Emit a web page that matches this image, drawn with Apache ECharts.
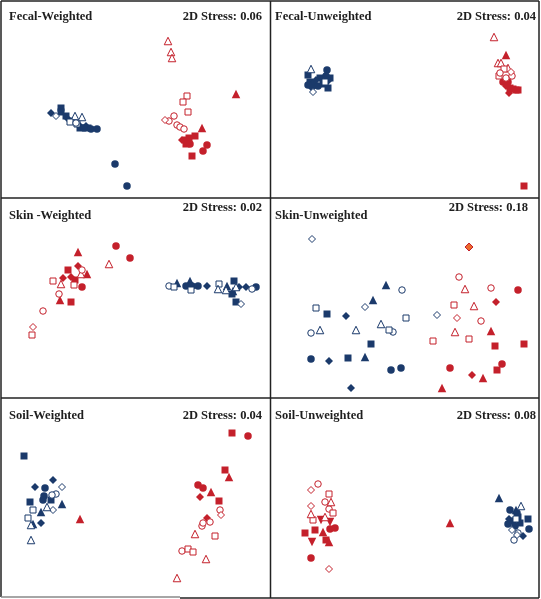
<!DOCTYPE html>
<html><head><meta charset="utf-8">
<script src="https://cdn.jsdelivr.net/npm/echarts@6/dist/echarts.min.js"></script>
<style>html,body{margin:0;padding:0;background:#fff}#c{width:541px;height:599px}</style>
</head><body><div id="c"></div>
<script>
// Panel titles and stress labels
var panelTitles = ['Fecal-Weighted','Fecal-Unweighted','Skin -Weighted','Skin-Unweighted','Soil-Weighted','Soil-Unweighted'];
var stressLabels = ['2D Stress: 0.06','2D Stress: 0.04','2D Stress: 0.02','2D Stress: 0.18','2D Stress: 0.04','2D Stress: 0.08'];

// Ordination coordinates [symbolCode, x, y]; codes: c=circle s=square t=triangle d=diamond v=inverted triangle; f=filled o=open; dx=orange diamond
var fecalWBlue = [['df',51,113],['sf',61,108],['sf',61,112],['do',56,116],['sf',66,116],['df',68,119],['to',75,116],['to',82,117],['so',70,122],['sf',73,121],['co',76,123],['df',79,125],['sf',80,128],['cf',84,128],['sf',88,128],['df',86,126],['cf',91,129],['cf',97,129],['so',77,124],['cf',115,164],['cf',127,186]];
var fecalWRed = [['to',168,41],['to',171,52],['to',172,58],['tf',236,94],['so',187,96],['so',183,102],['so',188,112],['co',174,116],['co',169,121],['co',177,125],['co',180,127],['co',184,129],['do',165,120],['tf',202,128],['sf',195,136],['sf',189,138],['df',182,140],['df',188,142],['cf',190,144],['sf',186,140],['cf',207,145],['cf',203,151],['sf',192,156],['sf',186,144]];
var fecalUBlue = [['to',41,69],['sf',38,75],['cf',57,70],['cf',56,76],['sf',50,78],['df',46,80],['sf',40,82],['cf',44,84],['df',58,81],['sf',53,84],['cf',48,86],['df',42,88],['do',43,92],['sf',58,88],['so',55,82],['cf',38,85],['sf',60,78]];
var fecalURed = [['to',224,37],['tf',236,55],['to',228,63],['to',231,63],['so',234,69],['co',230,73],['do',241,72],['co',236,78],['so',229,76],['cf',238,82],['sf',240,88],['df',236,86],['sf',246,90],['df',239,93],['cf',233,82],['co',242,76],['to',238,68],['sf',243,89],['sf',248,90],['sf',254,186]];
var skinWRed = [['cf',116,51],['cf',130,63],['to',109,69],['tf',78,57],['df',78,71],['co',82,75],['to',81,79],['tf',87,79],['sf',68,75],['df',63,83],['df',71,82],['sf',75,85],['so',74,90],['so',53,86],['to',61,89],['cf',82,92],['co',59,99],['tf',60,105],['sf',71,107],['co',43,116],['do',33,132],['so',32,140]];
var skinWBlue = [['co',169,91],['so',174,92],['tf',177,88],['cf',186,91],['tf',190,86],['so',191,95],['cf',192,91],['cf',198,91],['df',207,91],['so',219,89],['to',218,94],['tf',227,91],['to',226,95],['sf',234,86],['to',236,92],['df',239,92],['df',246,92],['co',252,94],['cf',256,92],['sf',232,99],['sf',236,107],['do',241,109],['tf',233,96]];
var skinUBlue = [['do',42,44],['tf',116,90],['co',132,95],['tf',103,105],['do',95,112],['so',46,113],['sf',57,119],['df',76,121],['so',136,123],['to',111,129],['co',41,138],['to',50,135],['to',86,135],['so',119,135],['co',123,137],['sf',101,149],['cf',41,164],['df',59,166],['sf',78,163],['tf',95,162],['cf',121,175],['cf',131,173],['df',81,193],['do',167,120]];
var skinURed = [['dx',199,52],['co',189,82],['to',195,94],['co',221,93],['cf',248,95],['so',184,110],['to',204,111],['df',226,107],['do',187,123],['co',211,126],['tf',221,136],['to',185,137],['so',163,146],['so',199,144],['sf',225,151],['sf',254,149],['cf',180,173],['cf',232,169],['sf',227,175],['df',202,180],['tf',213,183],['tf',172,193]];
var soilWBlue = [['sf',24,63],['df',35,94],['df',53,87],['cf',45,95],['do',62,94],['co',56,101],['co',52,102],['cf',44,103],['sf',30,109],['cf',43,107],['sf',51,107],['tf',62,111],['to',47,114],['do',53,117],['so',33,117],['tf',41,119],['so',28,125],['tf',33,131],['to',31,132],['df',41,130],['to',31,147]];
var soilWRed = [['tf',80,126],['sf',232,40],['cf',248,43],['sf',225,77],['tf',229,84],['cf',198,92],['cf',203,95],['tf',211,99],['df',200,104],['sf',219,108],['co',220,117],['do',221,122],['df',207,125],['co',210,129],['co',202,133],['co',203,130],['to',195,141],['so',215,143],['co',182,158],['so',188,156],['so',193,159],['to',206,166],['to',177,185]];
var soilURed = [['do',41,97],['co',48,91],['so',59,101],['co',55,109],['to',61,109],['do',41,113],['co',59,116],['so',63,120],['to',41,121],['so',43,127],['vf',51,127],['to',55,124],['vf',60,129],['cf',60,136],['cf',65,135],['sf',35,140],['sf',45,137],['tf',53,139],['vf',42,149],['sf',56,147],['tf',59,149],['cf',41,165],['do',59,176],['tf',180,130]];
var soilUBlue = [['tf',229,105],['cf',240,117],['to',251,113],['cf',247,120],['tf',246,117],['sf',258,126],['sf',248,124],['so',246,126],['cf',243,128],['df',239,126],['cf',259,136],['df',253,143],['co',244,147],['do',242,137],['do',247,142],['cf',245,133],['sf',250,130],['co',248,140],['cf',238,131]];

var panelData = [
  [fecalWBlue, fecalWRed], [fecalUBlue, fecalURed],
  [skinWRed, skinWBlue], [skinUBlue, skinURed],
  [soilWBlue, soilWRed], [soilURed, soilUBlue]
];
var panelColors = [
  ['blue','red'],['blue','red'],['red','blue'],['blue','red'],['blue','red'],['red','blue']
];

var BLUE = '#1b3a6b', RED = '#c4202b', ORANGE = '#ec6a2c';
var offX = [0,270,0,270,0,270];
var offY = [0,0,195,195,393,393];

var grids = [], xAxes = [], yAxes = [], series = [];
var shapeMap = {c:'circle', s:'rect', t:'triangle', d:'diamond', v:'triangle'};
var sizeMap = {c:7.5, s:7, t:8.5, d:8, v:8.5};

for (var p = 0; p < 6; p++) {
  grids.push({left: offX[p], top: offY[p], width: 270, height: 206, show: false});
  xAxes.push({gridIndex: p, type: 'value', min: 0, max: 270, show: false});
  yAxes.push({gridIndex: p, type: 'value', min: 0, max: 206, inverse: true, show: false});
  for (var g = 0; g < 2; g++) {
    var arr = panelData[p][g];
    var col = panelColors[p][g] === 'blue' ? BLUE : RED;
    var groups = {};
    arr.forEach(function (pt) {
      (groups[pt[0]] = groups[pt[0]] || []).push([pt[1], pt[2]]);
    });
    Object.keys(groups).forEach(function (code) {
      var sh = code.charAt(0), fill = code.charAt(1);
      var isOpen = fill === 'o';
      var fillCol = isOpen ? '#ffffff' : (fill === 'x' ? ORANGE : col);
      series.push({
        type: 'scatter', xAxisIndex: p, yAxisIndex: p,
        data: groups[code], symbol: shapeMap[sh],
        symbolSize: isOpen ? sizeMap[sh] - 1 : sizeMap[sh],
        symbolRotate: sh === 'v' ? 180 : 0,
        itemStyle: {color: fillCol, borderColor: col, borderWidth: isOpen ? 1 : (fill === 'x' ? 1 : 0), opacity: 1},
        silent: true, animation: false, clip: false, z: isOpen ? 3 : 2
      });
    });
  }
}

var titleY = [17,17,216,216,416,416];
var stressY = [17,17,208,208,416,416];
var titleX = [9,275,9,275,9,275];
var stressX = [262,536,262,528,262,536];
var graphics = [];
var font = 'bold 12.5px "Liberation Serif", "Times New Roman", serif';
for (var i = 0; i < 6; i++) {
  graphics.push({type:'text', x: titleX[i], y: titleY[i], z: 10,
    style:{text: panelTitles[i], font: font, fill:'#1e1e1e', textAlign:'left', textVerticalAlign:'middle'}});
  graphics.push({type:'text', x: stressX[i], y: stressY[i], z: 10,
    style:{text: stressLabels[i], font: font, fill:'#1e1e1e', textAlign:'right', textVerticalAlign:'middle'}});
}
var ln = function (x1, y1, x2, y2, c) {
  return {type:'line', shape:{x1:x1,y1:y1,x2:x2,y2:y2}, style:{stroke:c || '#222', lineWidth:1.5}, z: 20};
};
graphics.push(ln(1, 1, 539, 1));
graphics.push(ln(1, 1, 1, 597));
graphics.push(ln(539, 1, 539, 598));
graphics.push(ln(1, 597, 180, 597, '#888'));
graphics.push(ln(180, 598, 539, 598));
graphics.push(ln(270.5, 1, 270.5, 598));
graphics.push(ln(1, 198, 539, 198));
graphics.push(ln(1, 398, 539, 398));

var chart = echarts.init(document.getElementById('c'), null, {renderer:'canvas'});
chart.setOption({
  animation: false,
  backgroundColor: '#ffffff',
  grid: grids, xAxis: xAxes, yAxis: yAxes,
  series: series,
  graphic: graphics
});
</script>
</body></html>
